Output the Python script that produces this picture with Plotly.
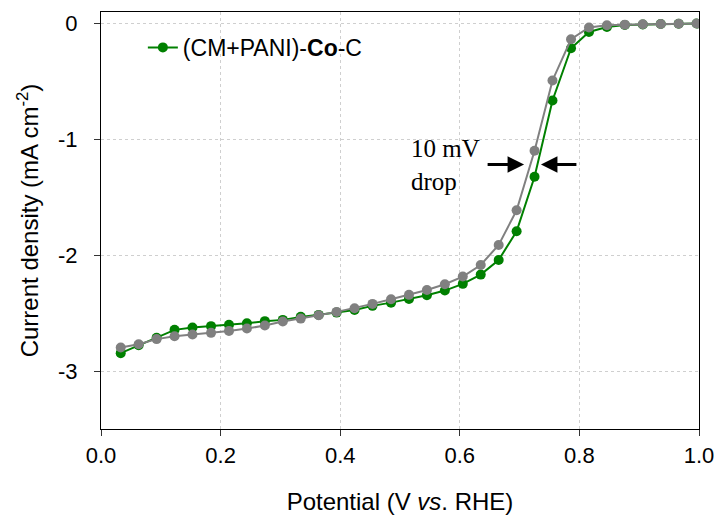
import plotly.graph_objects as go

# Potential (V vs. RHE) at each sampled point
potential = [0.033, 0.063, 0.093, 0.123, 0.153, 0.184, 0.214, 0.244, 0.274, 0.304,
             0.334, 0.364, 0.394, 0.424, 0.454, 0.485, 0.515, 0.545, 0.575, 0.605,
             0.635, 0.665, 0.695, 0.725, 0.755, 0.786, 0.816, 0.846, 0.876, 0.906,
             0.936, 0.966, 0.996]

# Current density (mA cm^-2), (CM+PANI)-Co-C
j_co = [-2.845, -2.776, -2.713, -2.644, -2.624, -2.612, -2.601, -2.587, -2.569, -2.558,
        -2.532, -2.515, -2.495, -2.472, -2.437, -2.409, -2.377, -2.345, -2.305, -2.247,
        -2.167, -2.041, -1.793, -1.322, -0.664, -0.213, -0.072, -0.029, -0.012, -0.008,
        -0.004, -0.002, 0.000]

# Current density (mA cm^-2), reference curve (grey)
j_ref = [-2.797, -2.768, -2.724, -2.699, -2.684, -2.670, -2.653, -2.633, -2.607, -2.572,
         -2.547, -2.518, -2.489, -2.457, -2.420, -2.380, -2.342, -2.300, -2.250, -2.184,
         -2.084, -1.911, -1.612, -1.098, -0.491, -0.135, -0.034, -0.015, -0.009, -0.006,
         -0.004, -0.002, 0.000]

x_ticks = [0.0, 0.2, 0.4, 0.6, 0.8, 1.0]
x_labels = ["0.0", "0.2", "0.4", "0.6", "0.8", "1.0"]
y_ticks = [0, -1, -2, -3]
y_labels = ["0", "-1", "-2", "-3"]

SANS = "Liberation Sans, Arial, sans-serif"
SERIF = "Liberation Serif, Times New Roman, serif"

fig = go.Figure()
fig.add_trace(go.Scatter(
    x=potential, y=j_co, mode="lines+markers",
    name="(CM+PANI)-<b>Co</b>-C",
    line=dict(color="#008000", width=2),
    marker=dict(color="#008000", size=10),
))
fig.add_trace(go.Scatter(
    x=potential, y=j_ref, mode="lines+markers",
    showlegend=False,
    line=dict(color="#808080", width=2),
    marker=dict(color="#808080", size=10),
))

# "10 mV drop" label and the two arrows pointing at the curves
fig.add_annotation(x=0.515, y=-1.225, xref="x", yref="y", text="10 mV<br>drop",
                   showarrow=False, xanchor="left", yanchor="middle", align="left",
                   font=dict(family=SERIF, size=25, color="black"))
fig.add_annotation(x=0.7075, y=-1.216, ax=0.644, ay=-1.216, xref="x", yref="y",
                   axref="x", ayref="y", text="", showarrow=True,
                   arrowhead=2, arrowsize=1.1, arrowwidth=3, arrowcolor="black")
fig.add_annotation(x=0.7357, y=-1.216, ax=0.7975, ay=-1.216, xref="x", yref="y",
                   axref="x", ayref="y", text="", showarrow=True,
                   arrowhead=2, arrowsize=1.1, arrowwidth=3, arrowcolor="black")

fig.update_layout(
    width=717, height=517,
    margin=dict(l=101, r=18, t=12, b=88, autoexpand=False),
    plot_bgcolor="white", paper_bgcolor="white",
    font=dict(family=SANS, size=22, color="black"),
    legend=dict(x=0.07, y=0.915, xanchor="left", yanchor="middle",
                bgcolor="rgba(0,0,0,0)", font=dict(size=23)),
    xaxis=dict(
        range=[0, 1], tickvals=x_ticks, ticktext=x_labels, automargin=False,
        showline=True, linecolor="black", linewidth=1.2, mirror=True,
        ticks="outside", ticklen=6, tickcolor="#333", tickwidth=1.2,
        showgrid=True, gridcolor="#cfcfcf", griddash="dot", gridwidth=1.3,
        zeroline=False,
        title=dict(text="Potential (V <i>vs</i>. RHE)", font=dict(size=24), standoff=26),
    ),
    yaxis=dict(
        range=[-3.5, 0.1], tickvals=y_ticks, ticktext=y_labels, automargin=False,
        showline=True, linecolor="black", linewidth=1.2, mirror=True,
        ticks="outside", ticklen=6, tickcolor="#333", tickwidth=1.2,
        showgrid=True, gridcolor="#cfcfcf", griddash="dot", gridwidth=1.3,
        zeroline=False, ticklabelstandoff=12,
        title=dict(text="Current density (mA cm<sup>-2</sup>)", font=dict(size=24), standoff=12),
    ),
)

fig.write_html("out.html")
